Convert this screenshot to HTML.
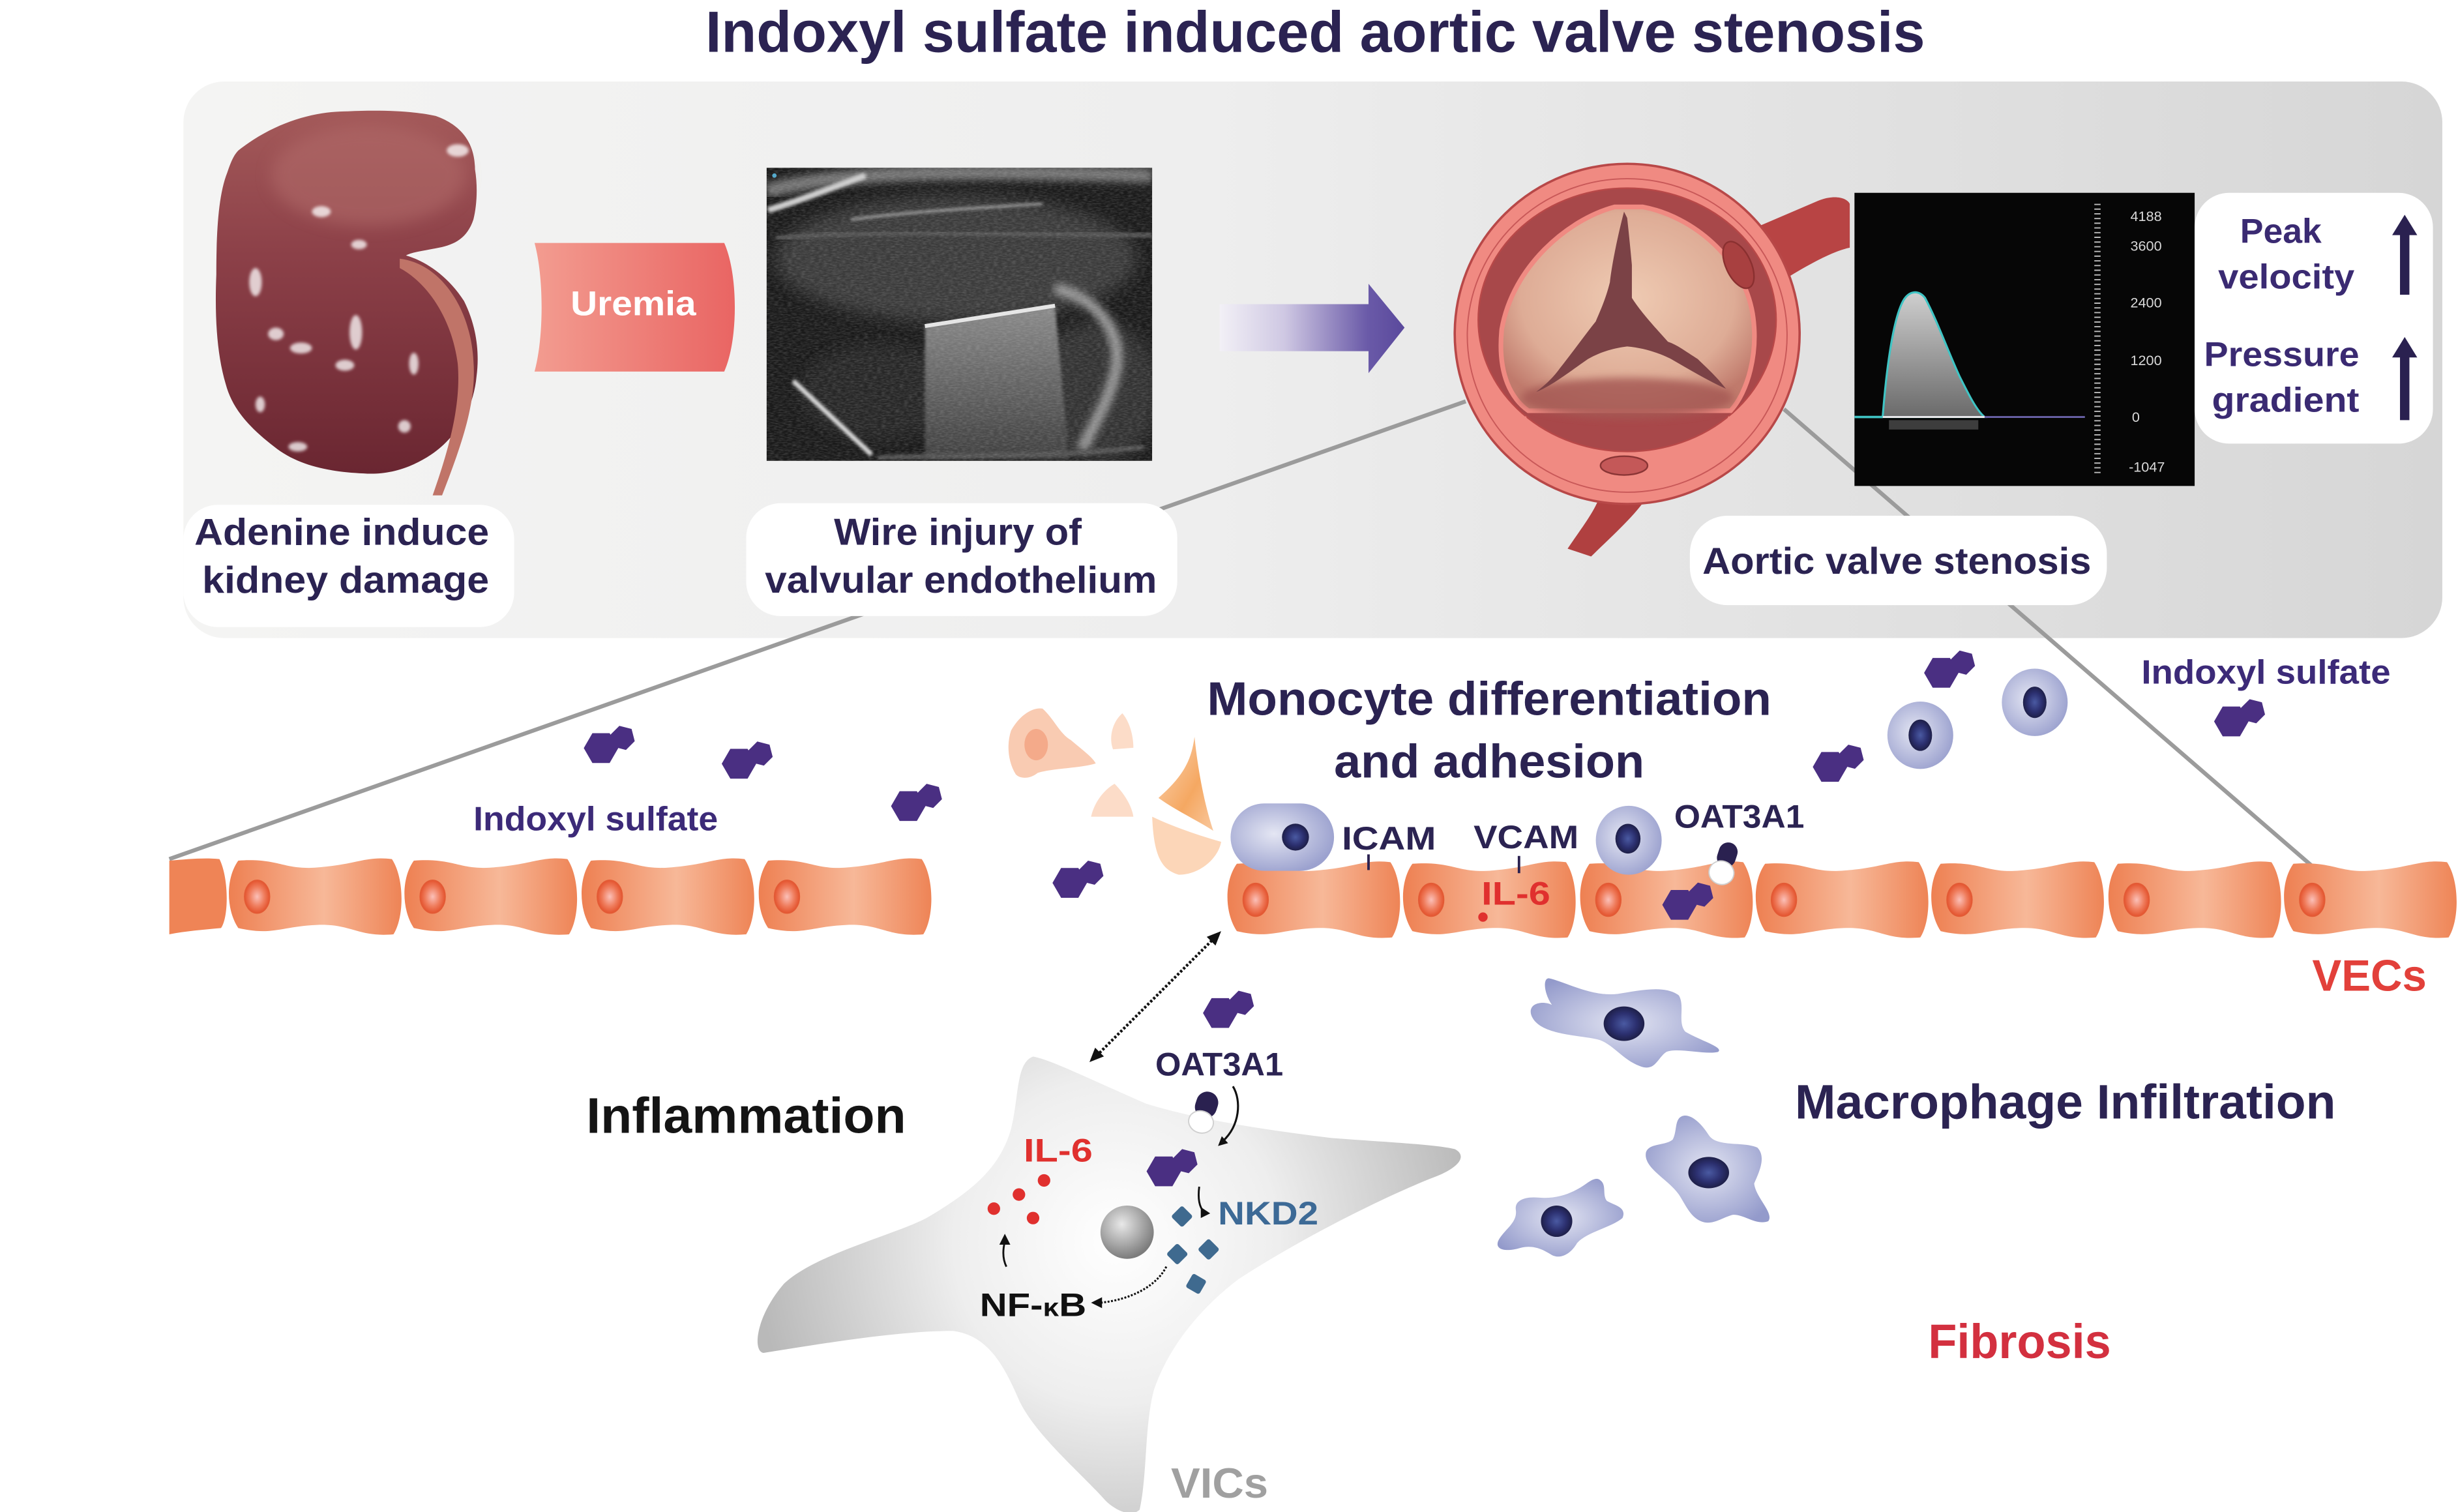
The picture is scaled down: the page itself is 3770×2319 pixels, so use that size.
<!DOCTYPE html>
<html><head><meta charset="utf-8"><style>html,body{margin:0;padding:0;background:#fff;}svg{display:block;}</style></head>
<body>
<svg xmlns="http://www.w3.org/2000/svg" xmlns:xlink="http://www.w3.org/1999/xlink" width="3770" height="2319" viewBox="0 0 1568 964.5" preserveAspectRatio="none" font-family="'Liberation Sans', Arial, sans-serif" font-weight="bold">
<defs>
  <linearGradient id="panelG" x1="0" y1="0" x2="1" y2="0">
    <stop offset="0" stop-color="#f4f4f3"/><stop offset="0.45" stop-color="#eeeeee"/><stop offset="1" stop-color="#d6d6d6"/>
  </linearGradient>
  <linearGradient id="cellG" x1="0" y1="0" x2="1" y2="0">
    <stop offset="0" stop-color="#ee8052"/><stop offset="0.55" stop-color="#f7b898"/><stop offset="1" stop-color="#ee8456"/>
  </linearGradient>
  <radialGradient id="nucG" cx="0.5" cy="0.5" r="0.5">
    <stop offset="0" stop-color="#fbc0b8"/><stop offset="0.6" stop-color="#ef7c5c"/><stop offset="1" stop-color="#e4542f"/>
  </radialGradient>
  <radialGradient id="monoG" cx="0.42" cy="0.45" r="0.6">
    <stop offset="0" stop-color="#e4e6f3"/><stop offset="1" stop-color="#9ca2cf"/>
  </radialGradient>
  <radialGradient id="monoN" cx="0.5" cy="0.5" r="0.5">
    <stop offset="0" stop-color="#4a5aa2"/><stop offset="0.6" stop-color="#2c3070"/><stop offset="1" stop-color="#1e1f48"/>
  </radialGradient>
  <radialGradient id="macG" cx="0.5" cy="0.5" r="0.6">
    <stop offset="0" stop-color="#e2e4f2"/><stop offset="1" stop-color="#939acb"/>
  </radialGradient>
  <radialGradient id="vicG" gradientUnits="userSpaceOnUse" cx="712" cy="792" r="230">
    <stop offset="0" stop-color="#ffffff"/><stop offset="0.45" stop-color="#eeeeee"/><stop offset="1" stop-color="#b9b9b9"/>
  </radialGradient>
  <radialGradient id="sphG" cx="0.4" cy="0.35" r="0.65">
    <stop offset="0" stop-color="#e8e8e8"/><stop offset="1" stop-color="#7c7c7c"/>
  </radialGradient>
  <linearGradient id="arrG" x1="0" y1="0" x2="1" y2="0">
    <stop offset="0" stop-color="#f2f0f6"/><stop offset="0.35" stop-color="#cfc8e3"/><stop offset="0.8" stop-color="#6a5aa8"/><stop offset="1" stop-color="#5a499c"/>
  </linearGradient>
  <linearGradient id="uremG" x1="0" y1="0" x2="1" y2="0">
    <stop offset="0" stop-color="#f39c90"/><stop offset="1" stop-color="#e96563"/>
  </linearGradient>
  <linearGradient id="kidG" x1="0" y1="0" x2="0" y2="1">
    <stop offset="0" stop-color="#a45a5a"/><stop offset="0.4" stop-color="#8c4048"/><stop offset="1" stop-color="#6a2631"/>
  </linearGradient>
  <radialGradient id="leafG" cx="0.5" cy="0.45" r="0.6">
    <stop offset="0" stop-color="#efcbb3"/><stop offset="0.7" stop-color="#deac96"/><stop offset="1" stop-color="#c07a6c"/>
  </radialGradient>
  <linearGradient id="wavG" x1="0" y1="0" x2="0" y2="1">
    <stop offset="0" stop-color="#cfcfcf"/><stop offset="1" stop-color="#6a6a6a"/>
  </linearGradient>
  <linearGradient id="wireG" x1="0" y1="0" x2="0" y2="1">
    <stop offset="0" stop-color="#8a8a8a"/><stop offset="1" stop-color="#3e3e3e"/>
  </linearGradient>
  <linearGradient id="shardG" x1="0" y1="0" x2="1" y2="1">
    <stop offset="0" stop-color="#fbd4b4"/><stop offset="0.6" stop-color="#f5a862"/><stop offset="1" stop-color="#f9c89e"/>
  </linearGradient>
  <filter id="b1" x="-20%" y="-20%" width="140%" height="140%"><feGaussianBlur stdDeviation="1"/></filter>
  <filter id="b2" x="-30%" y="-30%" width="160%" height="160%"><feGaussianBlur stdDeviation="2.5"/></filter>
  <filter id="b3" x="-30%" y="-30%" width="160%" height="160%"><feGaussianBlur stdDeviation="5"/></filter>
  <filter id="noise" x="0" y="0" width="100%" height="100%">
    <feTurbulence type="fractalNoise" baseFrequency="0.35 1.2" numOctaves="2" seed="4"/>
    <feColorMatrix type="matrix" values="0 0 0 0 0.75  0 0 0 0 0.75  0 0 0 0 0.75  0 0 0 1.6 -0.55"/>
  </filter>
  <clipPath id="usClip"><rect x="489" y="107" width="246" height="187"/></clipPath>
  <g id="is">
    <path d="M6.4,1.2 L0.9,10.7 L-10.1,10.7 L-15.6,1.2 L-10.1,-8.3 L0.9,-8.3 Z M16.9,-3.2 L11.3,2.4 L3.5,0.4 L1.5,-7.4 L7.1,-13 L14.9,-11 Z" fill="#4a2f82"/>
  </g>
  <g id="cell">
    <path d="M6 549 C33 547,35 556,60 553 C82 551,88 546,104 548 C112 560,112 585,105 596 C82 598,78 589,56 590 C33 591,28 597,6 592 C-2 580,-2 560,6 549 Z" fill="url(#cellG)"/>
    <ellipse cx="18" cy="572" rx="8" ry="10.5" fill="url(#nucG)" stroke="#e35a35" stroke-width="0.8"/>
  </g>
</defs>

<rect width="1568" height="964.5" fill="#fff"/>

<!-- Title -->
<text x="450" y="33" font-size="37" fill="#2b2352" textLength="778" lengthAdjust="spacingAndGlyphs">Indoxyl sulfate induced aortic valve stenosis</text>

<!-- Panel -->
<rect x="117" y="52" width="1441" height="355" rx="26" fill="url(#panelG)"/>

<!-- connector lines -->
<line x1="935" y1="256" x2="108" y2="548" stroke="#9b9b9b" stroke-width="2.6"/>
<line x1="1138" y1="261" x2="1479" y2="556" stroke="#9b9b9b" stroke-width="2.6"/>

<!-- Kidney -->
<g>
  <path d="M152 96 C175 78,200 71,222 71 C245 70,265 71,278 74 C295 80,303 92,303 108 C305 120,304 132,302 140 C298 152,290 156,280 158 C270 160,262 161,259 163 C270 166,285 175,296 192 C304 208,306 225,304 240 C302 262,290 280,275 290 C260 300,245 303,232 302 C210 301,190 297,175 285 C158 272,148 260,144 245 C138 225,137 200,138 175 C138 150,139 125,145 110 C147 104,149 99,152 96 Z" fill="url(#kidG)"/>
  <ellipse cx="235" cy="112" rx="62" ry="32" fill="#b26c6a" opacity="0.55" filter="url(#b3)"/>
  <path d="M255 165 C280 168,300 195,302 230 C304 255,296 280,282 316 L276 316 C288 282,294 256,292 232 C288 202,272 180,255 171 Z" fill="#c07468"/>
  <g fill="#fff" opacity="0.75" filter="url(#b1)">
    <ellipse cx="205" cy="135" rx="6" ry="3.5"/><ellipse cx="229" cy="156" rx="5" ry="3"/>
    <ellipse cx="163" cy="180" rx="4" ry="9"/><ellipse cx="176" cy="213" rx="5" ry="4"/>
    <ellipse cx="192" cy="222" rx="7" ry="3.5"/><ellipse cx="227" cy="212" rx="4" ry="11"/>
    <ellipse cx="220" cy="233" rx="6" ry="3.5"/><ellipse cx="264" cy="232" rx="3" ry="7"/>
    <ellipse cx="190" cy="285" rx="6" ry="3"/><ellipse cx="258" cy="272" rx="4" ry="4"/>
    <ellipse cx="292" cy="96" rx="7" ry="4"/><ellipse cx="166" cy="258" rx="3" ry="5"/>
  </g>
</g>

<!-- Uremia -->
<path d="M341 155 L462 155 C471 175,471 217,462 237 L341 237 C347 215,347 177,341 155 Z" fill="url(#uremG)"/>
<text x="364" y="201" font-size="22" fill="#fff" textLength="80" lengthAdjust="spacingAndGlyphs">Uremia</text>

<!-- Ultrasound -->
<g clip-path="url(#usClip)">
  <rect x="489" y="107" width="246" height="187" fill="#1a1a1a"/>
  <ellipse cx="610" cy="165" rx="115" ry="40" fill="#3a3a3a" filter="url(#b3)"/>
  <ellipse cx="700" cy="250" rx="40" ry="45" fill="#333" filter="url(#b3)"/>
  <ellipse cx="560" cy="250" rx="50" ry="30" fill="#262626" filter="url(#b3)"/>
  <path d="M489 122 C530 110,600 108,735 112" stroke="#777" stroke-width="9" fill="none" filter="url(#b2)"/>
  <path d="M490 134 C510 128,530 120,552 112" stroke="#cfcfcf" stroke-width="4" fill="none" filter="url(#b1)"/>
  <path d="M543 140 C580 135,620 133,665 130" stroke="#a8a8a8" stroke-width="1.5" fill="none" filter="url(#b1)"/>
  <path d="M495 152 C560 146,650 150,735 150" stroke="#555" stroke-width="3" fill="none" filter="url(#b1)"/>
  <polygon points="590,208 673,195 682,293 590,293" fill="url(#wireG)" filter="url(#b1)"/>
  <line x1="590" y1="208" x2="673" y2="195" stroke="#e6e6e6" stroke-width="2.5"/>
  <path d="M673 184 C700 190,716 212,712 235 C708 255,698 270,690 287" stroke="#9a9a9a" stroke-width="7" fill="none" filter="url(#b2)"/>
  <line x1="506" y1="243" x2="556" y2="290" stroke="#dcdcdc" stroke-width="3" filter="url(#b1)"/>
  <path d="M560 292 C600 290,680 292,730 285" stroke="#555" stroke-width="3" fill="none" filter="url(#b1)"/>
  <rect x="489" y="107" width="246" height="187" filter="url(#noise)" opacity="0.22"/>
  <circle cx="494" cy="112" r="1.4" fill="#55aacc"/>
</g>

<!-- Purple arrow -->
<polygon points="778,194 873,194 873,181 896,209 873,238 873,224 778,224" fill="url(#arrG)"/>

<!-- Valve -->
<g>
  <path d="M1118 146 L1160 128 C1170 124,1178 126,1180 130 L1180 158 C1170 160,1155 168,1142 176 Z" fill="#b84444"/>
  <path d="M1020 318 L1050 318 C1042 330,1025 345,1015 355 L1000 350 C1008 338,1016 328,1020 318 Z" fill="#b04040"/>
  <ellipse cx="1038" cy="213" rx="110" ry="108.5" fill="#f08a82" stroke="#b84848" stroke-width="1.5"/>
  <ellipse cx="1038" cy="214" rx="102" ry="100" fill="none" stroke="#c85858" stroke-width="0.8"/>
  <ellipse cx="1038" cy="204" rx="95" ry="84" fill="#a8484a" stroke="#b84848" stroke-width="1"/>
  <path d="M1030 132 C1000 140,965 170,958 210 C955 240,965 255,975 262 C1010 262,1070 262,1104 262 C1115 250,1122 225,1118 200 C1112 165,1080 138,1048 132 Z" fill="url(#leafG)" stroke="#f08a82" stroke-width="3"/>
  <ellipse cx="1038" cy="254" rx="68" ry="13" fill="#a65a55" opacity="0.85" filter="url(#b2)"/>
  <path d="M972 266 C985 300,1092 300,1104 266" fill="none" stroke="#f08a82" stroke-width="3"/>
  <ellipse cx="1036" cy="297" rx="15" ry="6" fill="#c45858" stroke="#8a3535" stroke-width="1"/>
  <ellipse cx="1109" cy="169" rx="8" ry="16" transform="rotate(-25 1109 169)" fill="#a84040" stroke="#8a3030" stroke-width="1"/>
  <path d="M1036 135 C1032 150,1028 170,1027 180 C1024 192,1020 200,1018 205 C1010 215,1003 225,995 235 C990 242,985 246,980 250 C990 246,1000 238,1013 229 C1022 224,1030 222,1038 221 C1050 222,1060 226,1066 229 C1078 236,1090 243,1101 248 C1095 240,1088 234,1083 229 C1075 224,1070 220,1064 218 C1055 208,1046 198,1041 190 C1041 180,1041 175,1041 169 C1040 158,1039 148,1038 139 Z" fill="#7b4246"/>
</g>

<!-- Doppler -->
<g>
  <rect x="1183" y="123" width="217" height="187" fill="#060606"/>
  <path d="M1201 266 C1203 240,1207 205,1214 192 C1218 185,1224 185,1228 190 C1236 205,1243 225,1250 240 C1256 252,1261 262,1266 266 Z" fill="url(#wavG)" stroke="#3fc4c4" stroke-width="1.3"/>
  <rect x="1205" y="268" width="57" height="6" fill="#555" opacity="0.7"/>
  <line x1="1183" y1="266" x2="1330" y2="266" stroke="#6a62a8" stroke-width="1.2"/>
  <line x1="1201" y1="266" x2="1266" y2="266" stroke="#eeeeee" stroke-width="1.2"/>
  <line x1="1183" y1="266" x2="1201" y2="266" stroke="#3fc4c4" stroke-width="1.5"/>
  <line x1="1338" y1="130" x2="1338" y2="302" stroke="#bbbbbb" stroke-width="4" stroke-dasharray="0.8 2.2"/>
  <g font-weight="normal" font-size="9" fill="#d8d8d8">
    <text x="1359" y="141">4188</text><text x="1359" y="160">3600</text><text x="1359" y="196">2400</text>
    <text x="1359" y="233">1200</text><text x="1360" y="269">0</text><text x="1358" y="301">-1047</text>
  </g>
</g>

<!-- Peak box -->
<rect x="1400" y="123" width="152" height="160" rx="22" fill="#fff"/>
<g fill="#3a2a72" font-size="22">
  <text x="1429" y="155" textLength="52" lengthAdjust="spacingAndGlyphs">Peak</text>
  <text x="1415" y="184" textLength="87" lengthAdjust="spacingAndGlyphs">velocity</text>
  <text x="1406" y="233.5" textLength="99" lengthAdjust="spacingAndGlyphs">Pressure</text>
  <text x="1411" y="262.6" textLength="94" lengthAdjust="spacingAndGlyphs">gradient</text>
</g>
<rect x="1531" y="148" width="6" height="40" fill="#2a2150"/>
<polygon points="1526,150 1534,137 1542,150" fill="#2a2150"/>
<rect x="1531" y="226" width="6" height="42" fill="#2a2150"/>
<polygon points="1526,228 1534,215 1542,228" fill="#2a2150"/>

<!-- label boxes -->
<rect x="117" y="322" width="211" height="78" rx="22" fill="#fff"/>
<rect x="476" y="321" width="275" height="72" rx="22" fill="#fff"/>
<rect x="1078" y="329" width="266" height="57" rx="24" fill="#fff"/>
<g fill="#2b2352" font-size="24">
  <text x="124" y="347.5" textLength="188" lengthAdjust="spacingAndGlyphs">Adenine induce</text>
  <text x="129" y="378" textLength="183" lengthAdjust="spacingAndGlyphs">kidney damage</text>
  <text x="532" y="347.5" textLength="158" lengthAdjust="spacingAndGlyphs">Wire injury of</text>
  <text x="488" y="378" textLength="250" lengthAdjust="spacingAndGlyphs">valvular endothelium</text>
  <text x="1086" y="366" textLength="248" lengthAdjust="spacingAndGlyphs">Aortic valve stenosis</text>
</g>

<!-- Lower section: text -->
<g fill="#2b2352">
  <text x="770" y="456" font-size="30" textLength="360" lengthAdjust="spacingAndGlyphs">Monocyte differentiation</text>
  <text x="851" y="496" font-size="30" textLength="198" lengthAdjust="spacingAndGlyphs">and adhesion</text>
  <text x="1145" y="713.6" font-size="31" textLength="345" lengthAdjust="spacingAndGlyphs">Macrophage Infiltration</text>
</g>
<text x="1366" y="436" font-size="21.5" fill="#3c2a78" textLength="159" lengthAdjust="spacingAndGlyphs">Indoxyl sulfate</text>
<text x="302" y="529.7" font-size="21.5" fill="#3c2a78" textLength="156" lengthAdjust="spacingAndGlyphs">Indoxyl sulfate</text>
<text x="374" y="722.6" font-size="32" fill="#141414" textLength="204" lengthAdjust="spacingAndGlyphs">Inflammation</text>
<text x="1230" y="866.4" font-size="31" fill="#d3303f" textLength="116.6" lengthAdjust="spacingAndGlyphs">Fibrosis</text>
<text x="1475" y="632" font-size="28" fill="#e2403a" textLength="73" lengthAdjust="spacingAndGlyphs">VECs</text>

<!-- shards (injured cell) -->
<path d="M665 452 C672 458,676 468,683 472 C690 478,697 483,699 487 C690 490,672 490,662 493 C657 497,651 497,648 494 C643 486,642 475,645 466 C650 457,658 451,665 452 Z" fill="#f9cbb2"/>
<ellipse cx="661" cy="475" rx="7.5" ry="10" fill="#f4aa8a"/>
<path d="M716 455 C721 461,723 470,723 477 L710 478 C707 470,710 460,716 455 Z" fill="#fcdcc8"/>
<path d="M711 500 C717 506,722 514,723 521 L696 521 C698 512,704 504,711 500 Z" fill="#fcdcc8"/>
<path d="M762 470 C760 485,755 495,739 509 C750 517,765 524,774 530 C768 512,764 490,762 470 Z" fill="url(#shardG)"/>
<path d="M735 521 C750 528,765 533,779 537 C777 548,765 558,752 558 C742 555,736 548,735 521 Z" fill="#fcd6b8"/>

<!-- cell layer -->
<path d="M108 549 C120 548,130 547,140 548 C146 560,146 585,141 592 C130 593,118 594,108 596 Z" fill="#ef8456"/>
<use xlink:href="#cell" transform="translate(146,0)"/>
<use xlink:href="#cell" transform="translate(258,0)"/>
<use xlink:href="#cell" transform="translate(371,0)"/>
<use xlink:href="#cell" transform="translate(484,0)"/>
<g transform="translate(0,2)">
<use xlink:href="#cell" transform="translate(783,0)"/>
<use xlink:href="#cell" transform="translate(895,0)"/>
<use xlink:href="#cell" transform="translate(1008,0)"/>
<use xlink:href="#cell" transform="translate(1120,0)"/>
<use xlink:href="#cell" transform="translate(1232,0)"/>
<use xlink:href="#cell" transform="translate(1345,0)"/>
<use xlink:href="#cell" transform="translate(1457,0)"/>
</g>

<!-- monocytes -->
<rect x="785" y="512.5" width="66" height="43" rx="21.5" fill="url(#monoG)"/>
<circle cx="826.4" cy="534" r="8.6" fill="url(#monoN)"/>
<ellipse cx="1039" cy="536" rx="21" ry="22" fill="url(#monoG)"/>
<ellipse cx="1038.5" cy="535" rx="8" ry="9.5" fill="url(#monoN)"/>
<ellipse cx="1225" cy="469" rx="21" ry="21.5" fill="url(#monoG)"/>
<ellipse cx="1225" cy="469" rx="7.5" ry="10" fill="url(#monoN)"/>
<ellipse cx="1298" cy="448" rx="21" ry="21.5" fill="url(#monoG)"/>
<ellipse cx="1298" cy="448" rx="7.5" ry="10" fill="url(#monoN)"/>

<!-- markers in membrane -->
<line x1="873" y1="545" x2="873" y2="555" stroke="#2a2150" stroke-width="1.6"/>
<line x1="969" y1="546" x2="969" y2="557" stroke="#2a2150" stroke-width="1.6"/>
<g fill="#2b2352" font-size="21">
  <text x="856" y="542" textLength="60" lengthAdjust="spacingAndGlyphs">ICAM</text>
  <text x="940" y="541" textLength="67" lengthAdjust="spacingAndGlyphs">VCAM</text>
  <text x="1068" y="528" textLength="83" lengthAdjust="spacingAndGlyphs">OAT3A1</text>
</g>
<text x="945" y="577" font-size="21" fill="#e0302e" textLength="44" lengthAdjust="spacingAndGlyphs">IL-6</text>
<circle cx="946" cy="585" r="3" fill="#e0302e"/>
<g transform="translate(1100,551) rotate(18)">
  <rect x="-6" y="-14" width="12" height="16" rx="6" fill="#2a2150"/>
  <ellipse cx="0" cy="6" rx="8" ry="7.5" fill="#fff" stroke="#cfcfcf" stroke-width="0.8"/>
</g>

<!-- IS molecules -->
<use xlink:href="#is" transform="translate(388,476)"/>
<use xlink:href="#is" transform="translate(476,486)"/>
<use xlink:href="#is" transform="translate(584,513)"/>
<use xlink:href="#is" transform="translate(687,562)"/>
<use xlink:href="#is" transform="translate(1243,428)"/>
<use xlink:href="#is" transform="translate(1172,488)"/>
<use xlink:href="#is" transform="translate(1428,459)"/>
<use xlink:href="#is" transform="translate(1076,576)"/>
<use xlink:href="#is" transform="translate(783,645)"/>

<!-- dotted double arrow -->
<line x1="775" y1="598" x2="699" y2="674" stroke="#111" stroke-width="1.8" stroke-dasharray="1.5 1.2"/>
<polygon points="779,594 775.4,603.2 769.8,597.6" fill="#111"/>
<polygon points="695,677.5 704.2,673.9 698.6,668.3" fill="#111"/>

<!-- macrophages -->
<path d="M977 648 C974 640,984 638,990 641 C985 634,984 624,988 624 C998 626,1015 636,1032 634 C1045 632,1062 628,1071 635 C1075 642,1070 652,1075 658 C1085 664,1100 668,1096 671 C1088 673,1070 668,1063 671 C1057 675,1056 684,1046 680 C1035 676,1028 665,1019 663 C1005 660,982 660,977 648 Z" fill="url(#macG)"/>
<ellipse cx="1036" cy="653" rx="13" ry="11" fill="url(#monoN)"/>
<path d="M1073 712 C1078 710,1085 716,1090 724 C1095 732,1112 728,1121 732 C1127 738,1122 748,1119 755 C1120 764,1132 774,1128 779 C1120 782,1112 774,1105 775 C1098 777,1092 782,1085 779 C1078 776,1075 768,1071 762 C1064 752,1048 745,1050 735 C1052 729,1062 731,1067 727 C1070 722,1068 714,1073 712 Z" fill="url(#macG)"/>
<ellipse cx="1090" cy="748" rx="13" ry="10" fill="url(#monoN)"/>
<path d="M1021 753 C1025 756,1022 762,1025 766 C1030 769,1038 770,1035 777 C1028 783,1012 786,1006 793 C1002 800,995 804,989 800 C984 797,978 794,970 796 C960 799,953 797,956 791 C960 784,968 780,967 772 C966 766,972 763,982 764 C995 765,1005 760,1012 755 C1016 752,1019 751,1021 753 Z" fill="url(#macG)"/>
<ellipse cx="993" cy="779" rx="10" ry="10" fill="url(#monoN)"/>

<!-- VIC -->
<path d="M659 674 C670 676,690 686,731 704 C760 713,800 720,850 726 C890 729,915 730,928 733 C936 737,932 745,912 752 C880 765,830 790,790 816 C765 835,745 860,736 887 C730 910,732 940,727 963 C722 968,712 964,705 957 C690 940,660 915,650 893 C640 870,630 852,608 849 C570 849,520 858,487 863 C480 862,482 840,500 819 C520 800,570 788,591 777 C620 760,638 745,645 720 C650 700,648 678,659 674 Z" fill="url(#vicG)"/>
<text x="747" y="955.4" font-size="27" fill="#a0a0a0" textLength="62" lengthAdjust="spacingAndGlyphs">VICs</text>
<text x="737" y="686" font-size="21" fill="#2b2352" textLength="81.6" lengthAdjust="spacingAndGlyphs">OAT3A1</text>
<g transform="translate(768,710) rotate(18)">
  <rect x="-7" y="-14" width="14" height="17" rx="7" fill="#2a2150"/>
  <ellipse cx="0" cy="6" rx="8" ry="7" fill="#fff" stroke="#d0d0d0" stroke-width="0.8"/>
</g>
<path d="M786.5 693 C792 702,791 718,780 728" stroke="#111" stroke-width="1.3" fill="none"/>
<polygon points="777,731 783.4,729.2 779.4,724.8" fill="#111"/>
<use xlink:href="#is" transform="translate(747,746)"/>
<path d="M765 757 C764 765,765 770,768 773" stroke="#111" stroke-width="1.2" fill="none"/>
<polygon points="772,774 766,777 766,770" fill="#111"/>
<text x="777" y="781" font-size="21" fill="#3d6a96" textLength="64" lengthAdjust="spacingAndGlyphs">NKD2</text>
<g fill="#3f6a8f">
  <rect x="-5" y="-5" width="10" height="10" rx="1.5" transform="translate(754,776) rotate(45)"/>
  <rect x="-5" y="-5" width="10" height="10" rx="1.5" transform="translate(751,800) rotate(45)"/>
  <rect x="-5" y="-5" width="10" height="10" rx="1.5" transform="translate(771,797) rotate(45)"/>
  <rect x="-5" y="-5" width="10" height="10" rx="1.5" transform="translate(763,819) rotate(30)"/>
</g>
<circle cx="719" cy="786" r="17" fill="url(#sphG)"/>
<text x="653" y="741" font-size="21" fill="#e0302e" textLength="44" lengthAdjust="spacingAndGlyphs">IL-6</text>
<g fill="#e0302e">
  <circle cx="666" cy="753" r="4"/><circle cx="650" cy="762" r="4"/>
  <circle cx="634" cy="771" r="4"/><circle cx="659" cy="777" r="4"/>
</g>
<path d="M642 808 C639 802,640 796,641 792" stroke="#111" stroke-width="1.2" fill="none"/>
<polygon points="641,787 637.5,794 644.5,794" fill="#111"/>
<text x="625" y="839.6" font-size="21" fill="#111" textLength="68" lengthAdjust="spacingAndGlyphs">NF-<tspan font-size="16">κ</tspan>B</text>
<path d="M744 808 C738 820,722 829,702 831" stroke="#111" stroke-width="1.3" fill="none" stroke-dasharray="1.2 1"/>
<polygon points="696,831 703,827.5 703,834.5" fill="#111"/>
</svg>
</body></html>
